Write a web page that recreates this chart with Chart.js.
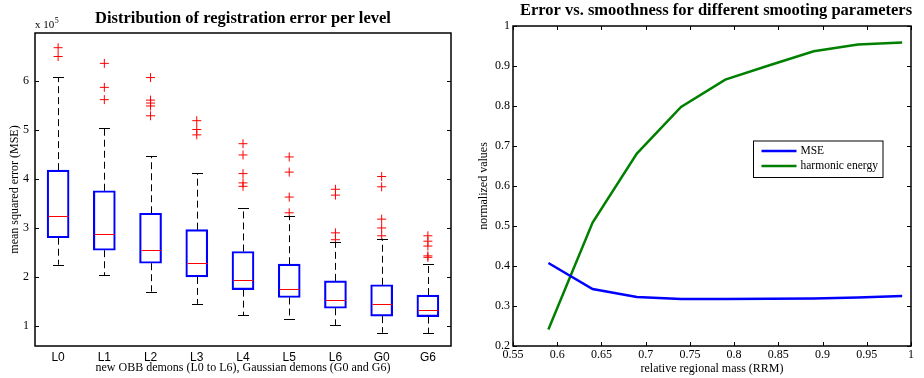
<!DOCTYPE html>
<html><head><meta charset="utf-8">
<script src="https://cdn.jsdelivr.net/npm/chart.js@4/dist/chart.umd.min.js"></script>
<style>
html,body{margin:0;padding:0;background:#fff;}
#wrap{position:relative;width:924px;height:378px;overflow:hidden;}
#c1{position:absolute;left:0;top:0;}
#c2{position:absolute;left:460px;top:0;}
</style></head><body>
<div id="wrap"><canvas id="c1" width="460" height="378"></canvas><canvas id="c2" width="464" height="378"></canvas></div>
<script>
// ---- Left chart data (values in units of 10^5) ----
const levels = ['L0','L1','L2','L3','L4','L5','L6','G0','G6'];
const lowerWhisker = [2.25, 2.04, 1.70, 1.45, 1.22, 1.14, 1.02, 0.86, 0.85];
const q1 = [2.80, 2.545, 2.28, 2.00, 1.74, 1.58, 1.36, 1.20, 1.19];
const medians = [3.245, 2.87, 2.545, 2.29, 1.93, 1.75, 1.52, 1.45, 1.33];
const q3 = [4.18, 3.76, 3.30, 2.965, 2.52, 2.26, 1.92, 1.84, 1.63];
const upperWhisker = [6.08, 5.05, 4.47, 4.12, 3.41, 3.25, 2.71, 2.78, 2.26];
const outliers = [
  [6.68, 6.50],
  [6.36, 5.87, 5.62],
  [6.07, 5.61, 5.55, 5.49, 5.29],
  [5.19, 5.01, 4.90],
  [4.72, 4.49, 4.11, 3.92, 3.85],
  [4.45, 4.14, 3.63, 3.31],
  [3.79, 3.67, 2.90, 2.76],
  [4.05, 3.84, 3.18, 3.00, 2.84],
  [2.84, 2.73, 2.63, 2.43, 2.40]
];
const leftYTicks = [1, 2, 3, 4, 5, 6];

// ---- Right chart data ----
const rrm = [0.59, 0.64, 0.69, 0.74, 0.79, 0.84, 0.89, 0.94, 0.99];
const mse = [0.4075, 0.3425, 0.3225, 0.3175, 0.3175, 0.318, 0.319, 0.321, 0.325];
const harmonic = [0.241, 0.5085, 0.681, 0.7975, 0.866, 0.902, 0.9368, 0.9535, 0.9585];
const rightXTicks = [0.55, 0.6, 0.65, 0.7, 0.75, 0.8, 0.85, 0.9, 0.95, 1];
const rightYTicks = [0.2, 0.3, 0.4, 0.5, 0.6, 0.7, 0.8, 0.9, 1];

const SERIF = '"Liberation Serif", "Times New Roman", serif';
const SANS = '"Liberation Sans", Arial, sans-serif';

const matlabFrame = {
  id: 'matlabFrame',
  afterDraw(chart, args, opts) {
    const {ctx, chartArea: a, scales} = chart;
    ctx.save();
    ctx.strokeStyle = '#000';
    ctx.lineWidth = 1;
    const L = 4;
    if (opts.yTicks) {
      scales.y.ticks.forEach(t => {
        const py = Math.round(scales.y.getPixelForValue(t.value)) + 0.5;
        ctx.beginPath();
        ctx.moveTo(a.left, py); ctx.lineTo(a.left + L, py);
        ctx.moveTo(a.right, py); ctx.lineTo(a.right - L, py);
        ctx.stroke();
      });
    }
    if (opts.xTicks) {
      scales.x.ticks.forEach(t => {
        const px = Math.round(scales.x.getPixelForValue(t.value)) + 0.5;
        ctx.beginPath();
        ctx.moveTo(px, a.bottom); ctx.lineTo(px, a.bottom - L);
        ctx.moveTo(px, a.top); ctx.lineTo(px, a.top + L);
        ctx.stroke();
      });
    }
    ctx.lineWidth = 1.5;
    ctx.strokeRect(a.left, a.top, a.right - a.left, a.bottom - a.top);
    ctx.restore();
  }
};

const plotTitle = {
  id: 'plotTitle',
  afterDraw(chart, args, opts) {
    const {ctx, chartArea: a} = chart;
    ctx.save();
    ctx.fillStyle = '#000';
    ctx.font = 'bold 16.5px ' + SERIF;
    ctx.textAlign = 'center';
    ctx.textBaseline = 'alphabetic';
    ctx.fillText(opts.text, (a.left + a.right) / 2 + (opts.dx || 0), opts.baseline);
    if (opts.exponent) {
      ctx.textAlign = 'left';
      ctx.font = '11px ' + SERIF;
      ctx.fillText('x 10', a.left, 28);
      const w = ctx.measureText('x 10').width;
      ctx.font = '8px ' + SERIF;
      ctx.fillText('5', a.left + w + 0.5, 23);
    }
    ctx.restore();
  }
};

const boxExtras = {
  id: 'boxExtras',
  afterDatasetsDraw(chart) {
    const {ctx, scales: {x, y}} = chart;
    ctx.save();
    levels.forEach((lab, i) => {
      const cx = Math.round(x.getPixelForValue(i)) + 0.5;
      const half = 11, capHalf = 5.5;
      // whiskers (dashed)
      ctx.strokeStyle = '#000';
      ctx.lineWidth = 1;
      ctx.setLineDash([7, 4]);
      ctx.beginPath();
      ctx.moveTo(cx, y.getPixelForValue(q3[i]));
      ctx.lineTo(cx, y.getPixelForValue(upperWhisker[i]));
      ctx.moveTo(cx, y.getPixelForValue(q1[i]));
      ctx.lineTo(cx, y.getPixelForValue(lowerWhisker[i]));
      ctx.stroke();
      ctx.setLineDash([]);
      // caps
      ctx.beginPath();
      let py = Math.round(y.getPixelForValue(upperWhisker[i])) + 0.5;
      ctx.moveTo(cx - capHalf, py); ctx.lineTo(cx + capHalf, py);
      py = Math.round(y.getPixelForValue(lowerWhisker[i])) + 0.5;
      ctx.moveTo(cx - capHalf, py); ctx.lineTo(cx + capHalf, py);
      ctx.stroke();
      // median
      ctx.strokeStyle = '#ff0000';
      ctx.beginPath();
      py = Math.round(y.getPixelForValue(medians[i])) + 0.5;
      ctx.moveTo(cx - half + 1, py); ctx.lineTo(cx + half - 1, py);
      ctx.stroke();
    });
    ctx.restore();
  }
};

const legendBox = {
  id: 'legendBox',
  afterDraw(chart) {
    const {ctx, chartArea: a} = chart;
    const bx = a.right - 157.5, by = a.top + 115, bw = 129.5, bh = 36.5;
    ctx.save();
    ctx.fillStyle = '#fff';
    ctx.fillRect(bx, by, bw, bh);
    ctx.strokeStyle = '#000';
    ctx.lineWidth = 1;
    ctx.strokeRect(bx, by, bw, bh);
    ctx.font = '11.5px ' + SERIF;
    ctx.textBaseline = 'middle';
    ctx.textAlign = 'left';
    chart.data.datasets.forEach((ds, i) => {
      const ry = by + 10 + i * 15;
      ctx.strokeStyle = ds.borderColor;
      ctx.lineWidth = 2.5;
      ctx.beginPath();
      ctx.moveTo(bx + 8, ry); ctx.lineTo(bx + 43, ry);
      ctx.stroke();
      ctx.fillStyle = '#000';
      ctx.fillText(ds.label, bx + 47, ry);
    });
    ctx.restore();
  }
};

new Chart(document.getElementById('c1'), {
  type: 'bar',
  data: {
    labels: levels,
    datasets: [
      {
        type: 'bar',
        label: 'IQR',
        data: levels.map((_, i) => [q1[i], q3[i]]),
        backgroundColor: 'rgba(0,0,0,0)',
        borderColor: '#0000ff',
        borderWidth: 1.5,
        borderSkipped: false,
        barThickness: 22
      },
      {
        type: 'scatter',
        label: 'outliers',
        data: outliers.flatMap((arr, i) => arr.map(v => ({x: levels[i], y: v}))),
        pointStyle: 'cross',
        radius: 4.5,
        borderColor: '#ff0000',
        backgroundColor: '#ff0000',
        borderWidth: 1
      }
    ]
  },
  options: {
    responsive: false,
    animation: false,
    events: [],
    layout: {padding: {left: 0, right: 9, top: 33, bottom: 0}},
    plugins: {
      legend: {display: false},
      tooltip: {enabled: false},
      matlabFrame: {yTicks: true, xTicks: false},
      plotTitle: {text: 'Distribution of registration error per level', baseline: 23, exponent: true}
    },
    scales: {
      x: {
        type: 'category',
        offset: true,
        grid: {display: false, drawTicks: false},
        border: {display: false},
        ticks: {color: '#000', font: {family: SANS, size: 12}, padding: 4},
        title: {display: true, text: 'new OBB demons (L0 to L6), Gaussian demons (G0 and G6)', color: '#000', font: {family: SERIF, size: 12}, padding: {top: 0, bottom: 3}},
        afterFit: s => { s.height = 32; }
      },
      y: {
        type: 'linear',
        min: 0.59, max: 6.98,
        grid: {display: false, drawTicks: false},
        border: {display: false},
        afterBuildTicks: s => { s.ticks = leftYTicks.map(v => ({value: v})); },
        ticks: {color: '#000', font: {family: SERIF, size: 12}, padding: 6, callback: v => String(v)},
        title: {display: true, text: 'mean squared error (MSE)', color: '#000', font: {family: SERIF, size: 12}, padding: {top: 8, bottom: 0}},
        afterFit: s => { s.width = 35; }
      }
    }
  },
  plugins: [boxExtras, matlabFrame, plotTitle]
});

new Chart(document.getElementById('c2'), {
  type: 'line',
  data: {
    datasets: [
      {label: 'MSE', data: rrm.map((x, i) => ({x, y: mse[i]})), borderColor: '#0000ff', borderWidth: 2.5, pointRadius: 0, tension: 0, fill: false},
      {label: 'harmonic energy', data: rrm.map((x, i) => ({x, y: harmonic[i]})), borderColor: '#008000', borderWidth: 2.5, pointRadius: 0, tension: 0, fill: false}
    ]
  },
  options: {
    responsive: false,
    animation: false,
    events: [],
    layout: {padding: {left: 0, right: 13, top: 26, bottom: 0}},
    plugins: {
      legend: {display: false},
      tooltip: {enabled: false},
      matlabFrame: {yTicks: true, xTicks: true},
      plotTitle: {text: 'Error vs. smoothness for different smooting parameters', baseline: 15, dx: 4}
    },
    scales: {
      x: {
        type: 'linear',
        min: 0.55, max: 1,
        grid: {display: false, drawTicks: false},
        border: {display: false},
        afterBuildTicks: s => { s.ticks = rightXTicks.map(v => ({value: v})); },
        ticks: {color: '#000', font: {family: SERIF, size: 12}, padding: 2, maxRotation: 0, autoSkip: false, callback: v => String(+(+v).toFixed(2))},
        title: {display: true, text: 'relative regional mass (RRM)', color: '#000', font: {family: SERIF, size: 12}, padding: {top: 0, bottom: 2}},
        afterFit: s => { s.height = 32; }
      },
      y: {
        type: 'linear',
        min: 0.2, max: 1,
        grid: {display: false, drawTicks: false},
        border: {display: false},
        afterBuildTicks: s => { s.ticks = rightYTicks.map(v => ({value: v})); },
        ticks: {color: '#000', font: {family: SERIF, size: 12}, padding: 3, callback: v => String(+(+v).toFixed(2))},
        title: {display: true, text: 'normalized values', color: '#000', font: {family: SERIF, size: 12}, padding: {top: 17, bottom: 0}},
        afterFit: s => { s.width = 53; }
      }
    }
  },
  plugins: [matlabFrame, plotTitle, legendBox]
});
</script>
</body></html>
